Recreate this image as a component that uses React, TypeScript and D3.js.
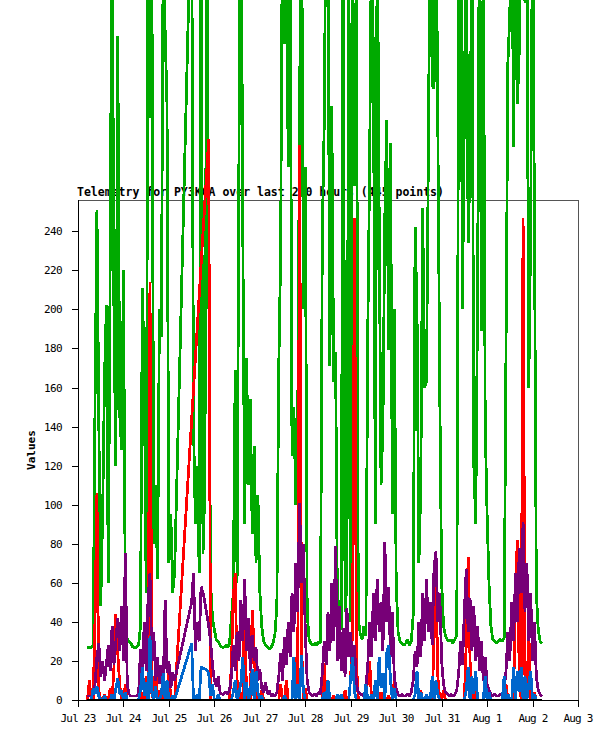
import { useEffect, useRef } from "react";
import * as d3 from "d3";

// hourly samples, first one at Jul 23 05:00
const START = new Date(2019, 6, 23, 5, 0);
const STEP_HOURS = 1;

const TITLE = "Telemetry for PY3KCA over last 240 hours (445 points)";

const GREEN = [
  27, 27, 27, 28, 153, 251, 142, 48, 95, 165, 202, 60, 227, 420, 193, 120, 340, 147, 128, 220, 45, 31, 30, 29,
  27, 27, 27, 28, 38, 211, 167, 55, 400, 298, 380, 80, 110, 62, 200, 186, 390, 343, 304, 70, 95, 55, 65, null,
  null, null, null, null, null, null, null, 420, 140, 90, 120, 65, 400, 75, 110, 410, 219, 60, 42, 36, 31, 30, 28, 27,
  27, 28, 27, 29, 42, 55, 169, 60, 282, 450, 243, 90, 175, 110, 154, 85, 130, 70, 105, 56, 38, 30, 28, 27,
  26, 27, 29, 34, 48, 170, 229, 420, 336, 390, 273, 400, 125, 150, 100, 140, 303, 430, 200, 273, 45, 31, 29, 28,
  29, 28, 30, 29, 239, 295, 420, 380, 171, 304, 163, 178, 42, 51, 36, 410, 45, 60, 400, 40, 390, 263, 380, 42,
  34, 31, 38, 33, 188, 276, 400, 326, 90, 410, 250, 110, 140, 247, 297, 179, 285, 95, 200, 60, 35, 30, 29, 28,
  29, 31, 28, 30, 44, 242, 199, 70, 110, 252, 160, 163, 281, 420, 315, 313, 420, 293, 159, 60, 38, 33, 31, 30,
  31, 29, 31, 33, 357, 420, 200, 300, 410, 234, 275, 400, 120, 90, 211, 420, 189, 400, 141, 95, 60, 38, 31, 30,
  29, 30, 31, 30, 32, 181, 327, 351, 420, 283, 410, 305, 333, 420, 390, 357, 400, 160, 239, 410, 247, 55, 36, 30,
  29,
];

const RED = [
  0, 10, 0, 0, 42, 106, 5, 0, 0, 3, 0, 0, 6, 0, 17, 44, 24, 8, 0, 0, 8, 0, 0, 0,
  0, 0, 0, 0, 0, 4, 0, 12, 0, 214, 3, 0, 20, 0, 5, 0, 0, 8, 0, 15, 0, 2, 0, null,
  null, null, null, null, null, null, null, null, null, null, null, null, null, null, null, null, 287, 0, 0, 0, 0, 0, 0, 0,
  0, 0, 0, 0, 18, 53, 65, 10, 0, 4, 0, 51, 0, 6, 0, 46, 26, 3, 0, 0, 5, 0, 0, 0,
  0, 0, 0, 0, 0, 0, 8, 0, 0, 10, 0, 0, 0, 22, 20, 5, 284, 30, 0, 6, 0, 0, 0, 0,
  0, 0, 0, 0, 0, 19, 0, 3, 0, 0, 2, 0, 0, 0, 0, 0, 5, 0, 0, 12, 37, 247, 20, 0,
  0, 0, 0, 0, 12, 20, 0, 0, 0, 0, 0, 4, 0, 0, 0, 2, 0, 0, 10, 0, 0, 0, 0, 0,
  0, 0, 0, 0, 0, 0, 0, 0, 5, 0, 0, 0, 0, 0, 0, 31, 65, 12, 0, 0, 5, 0, 0, 0,
  0, 0, 0, 0, 0, 0, 0, 0, 29, 73, 20, 0, 0, 5, 0, 0, 0, 0, 0, 0, 0, 0, 0, 0,
  0, 0, 0, 0, 0, 8, 0, 0, 0, 0, 59, 82, 10, 0, 247, 5, 0, 36, 0, 0, 4, 0, 0, 0,
  0,
];

const PURPLE = [
  2, 2, 2, 3, 8, 22, 29, 12, 20, 10, 18, 28, 15, 38, 18, 30, 42, 25, 48, 20, 75, 8, 3, 2,
  2, 2, 2, 3, 26, 12, 40, 15, 52, 65, 20, 35, 10, 22, 8, 18, 6, 51, 14, 20, 6, 14, 10, null,
  null, null, null, null, null, null, null, 50, 65, 25, 40, 30, 58, 55, 50, 44, 38, 30, 18, 10, 7, 12, 4, 3,
  3, 4, 3, 5, 12, 28, 15, 35, 20, 51, 30, 62, 25, 42, 15, 33, 20, 27, 10, 16, 6, 4, 9, 3,
  5, 2, 3, 2, 4, 12, 24, 10, 32, 18, 40, 22, 55, 35, 70, 45, 101, 60, 80, 35, 10, 4, 3, 2,
  3, 2, 4, 3, 14, 30, 18, 45, 25, 60, 30, 79, 20, 48, 15, 37, 12, 47, 22, 35, 10, 28, 8, 4,
  3, 3, 2, 6, 18, 40, 22, 55, 30, 62, 35, 50, 25, 81, 40, 58, 22, 45, 12, 6, 3, 2, 3, 2,
  2, 3, 2, 4, 10, 25, 17, 40, 22, 55, 30, 62, 35, 50, 28, 68, 76, 40, 55, 20, 8, 4, 3, 2,
  3, 2, 3, 5, 14, 30, 18, 45, 67, 35, 52, 25, 48, 20, 38, 15, 30, 10, 22, 8, 5, 3, 2, 3,
  2, 2, 3, 2, 5, 15, 35, 20, 50, 30, 65, 40, 78, 55, 91, 45, 70, 30, 55, 20, 40, 12, 5, 3,
  2,
];

const BLUE = [
  0, 0, 0, 6, 3, 7, 2, 0, 0, 2, 0, 0, 0, 3, 0, 6, 11, 3, 5, 0, 4, 0, 0, 0,
  0, 0, 0, 0, 5, 17, 2, 9, 0, 33, 4, 0, 7, 0, 0, 3, 14, 0, 10, 0, 0, 2, 0, null,
  null, null, null, null, null, null, null, 29, 0, 0, 3, 0, 17, 16, 16, 15, 14, 2, 8, 0, 0, 3, 0, 0,
  0, 0, 0, 0, 0, 4, 10, 0, 3, 9, 22, 0, 9, 0, 3, 16, 0, 15, 4, 0, 2, 0, 0, 0,
  0, 0, 0, 0, 0, 0, 0, 0, 2, 0, 0, 0, 0, 22, 0, 8, 0, 23, 5, 0, 0, 0, 0, 0,
  0, 0, 0, 0, 0, 4, 0, 10, 0, 0, 0, 0, 3, 0, 3, 0, 0, 0, 0, 12, 22, 4, 0, 0,
  0, 0, 0, 8, 0, 0, 3, 0, 10, 0, 22, 6, 14, 0, 24, 28, 10, 0, 6, 0, 0, 0, 0, 0,
  0, 0, 0, 0, 0, 3, 15, 0, 4, 0, 0, 3, 0, 0, 12, 0, 10, 3, 0, 0, 0, 0, 0, 0,
  0, 0, 0, 0, 0, 0, 0, 0, 5, 17, 0, 12, 3, 15, 0, 0, 0, 0, 12, 0, 4, 0, 0, 0,
  0, 0, 0, 0, 12, 0, 3, 0, 0, 17, 0, 15, 4, 17, 0, 12, 0, 8, 15, 0, 3, 0, 0, 0,
  0,
];

// flat series, given as [hour, value] pairs
const BLACK: [number, number][] = [[0, 0], [240, 0]];

const X_TICK_LABELS = ["Jul 23", "Jul 24", "Jul 25", "Jul 26", "Jul 27", "Jul 28", "Jul 29", "Jul 30", "Jul 31", "Aug 1", "Aug 2", "Aug 3"];
const Y_TICKS = [0, 20, 40, 60, 80, 100, 120, 140, 160, 180, 200, 220, 240];

const SERIES = [
  { key: "green", color: "#00aa00", values: GREEN },
  { key: "red", color: "#ff0000", values: RED },
  { key: "purple", color: "#770077", values: PURPLE },
  { key: "blue", color: "#0066cc", values: BLUE },
];

const toPairs = (vals: (number | null)[]) =>
  vals.map((v, i) => [i, v] as [number, number | null]).filter((d) => d[1] !== null) as [number, number][];

export default function App() {
  const svgRef = useRef<SVGSVGElement>(null);

  useEffect(() => {
    if (!svgRef.current) return;
    const svg = d3.select(svgRef.current);
    svg.selectAll("*").remove();

    const margin = { top: 200, left: 78 };
    const width = 500;
    const height = 500;

    const x = d3
      .scaleTime()
      .domain([new Date(2019, 6, 23), new Date(2019, 7, 3)])
      .range([margin.left, margin.left + width]);
    const y = d3.scaleLinear().domain([0, 256]).range([margin.top + height, margin.top]);

    const hourToDate = (h: number) => new Date(START.getTime() + h * STEP_HOURS * 3600 * 1000);

    const mono = "'DejaVu Sans Mono', 'Liberation Mono', monospace";

    // title (drawn first, the lines run over it)
    svg.append("text")
      .attr("x", 77)
      .attr("y", 196)
      .attr("font-family", mono)
      .attr("font-weight", "bold")
      .attr("font-size", "11.5px")
      .attr("fill", "#000")
      .text(TITLE);

    // frame
    svg.append("rect")
      .attr("x", margin.left + 0.5)
      .attr("y", margin.top + 0.5)
      .attr("width", width)
      .attr("height", height)
      .attr("fill", "none")
      .attr("stroke", "#555")
      .attr("shape-rendering", "crispEdges");

    const line = d3
      .line<[number, number]>()
      .x((d) => x(hourToDate(d[0])))
      .y((d) => y(d[1]));

    SERIES.forEach((s) => {
      svg.append("path")
        .attr("d", line(toPairs(s.values)) || "")
        .attr("fill", "none")
        .attr("stroke", s.color)
        .attr("stroke-width", 2.8)
        .attr("stroke-linejoin", "bevel")
        .attr("shape-rendering", "crispEdges");
    });

    svg.append("path")
      .attr("d", line(BLACK) || "")
      .attr("fill", "none")
      .attr("stroke", "#000")
      .attr("stroke-width", 2.5)
      .attr("shape-rendering", "crispEdges");

    // axes
    const axisG = svg.append("g").attr("shape-rendering", "crispEdges");
    axisG.append("line")
      .attr("x1", margin.left).attr("x2", margin.left)
      .attr("y1", margin.top).attr("y2", margin.top + height)
      .attr("stroke", "#000");
    axisG.append("line")
      .attr("x1", margin.left).attr("x2", margin.left + width)
      .attr("y1", margin.top + height).attr("y2", margin.top + height)
      .attr("stroke", "#000");

    Y_TICKS.forEach((t) => {
      const yy = Math.round(y(t));
      axisG.append("line")
        .attr("x1", margin.left - 6).attr("x2", margin.left)
        .attr("y1", yy).attr("y2", yy)
        .attr("stroke", "#000");
      svg.append("text")
        .attr("x", 62)
        .attr("y", yy)
        .attr("dy", "0.36em")
        .attr("text-anchor", "end")
        .attr("font-family", mono)
        .attr("font-size", "11px")
        .attr("letter-spacing", "-0.6px")
        .attr("fill", "#000")
        .text(String(t));
    });

    X_TICK_LABELS.forEach((label, k) => {
      const xx = Math.round(x(new Date(2019, 6, 23 + k)));
      axisG.append("line")
        .attr("x1", xx).attr("x2", xx)
        .attr("y1", margin.top + height).attr("y2", margin.top + height + 7)
        .attr("stroke", "#000");
      svg.append("text")
        .attr("x", xx)
        .attr("y", 722)
        .attr("text-anchor", "middle")
        .attr("font-family", mono)
        .attr("font-size", "11px")
        .attr("letter-spacing", "-0.8px")
        .attr("fill", "#000")
        .text(label);
    });

    svg.append("text")
      .attr("transform", `translate(35,${margin.top + height / 2}) rotate(-90)`)
      .attr("text-anchor", "middle")
      .attr("font-family", mono)
      .attr("font-weight", "bold")
      .attr("font-size", "11px")
      .attr("fill", "#000")
      .text("Values");
  }, []);

  return (
    <div style={{ position: "absolute", left: 0, top: 0, background: "#fff" }}>
      <svg ref={svgRef} width={615} height={741} style={{ display: "block" }} />
    </div>
  );
}
